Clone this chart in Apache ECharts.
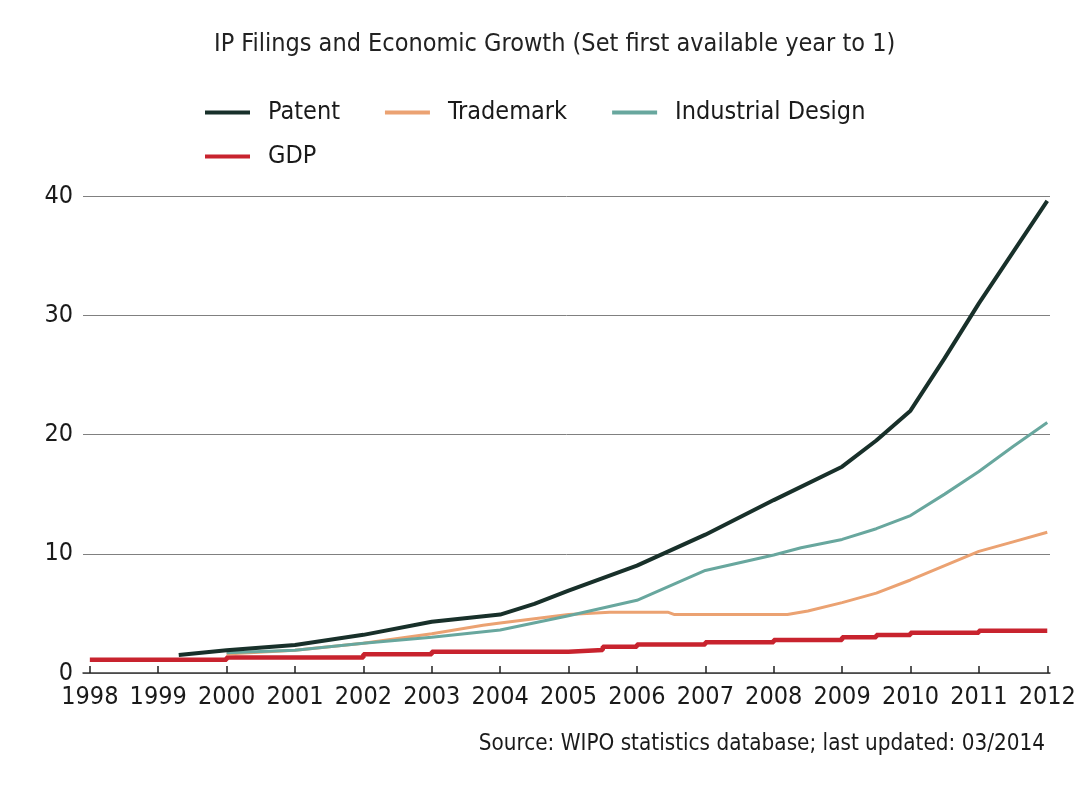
<!DOCTYPE html>
<html>
<head>
<meta charset="utf-8">
<script src="https://cdn.jsdelivr.net/npm/echarts@6/dist/echarts.min.js"></script>
<style>
html,body{margin:0;padding:0;background:#fff;}
#chart{width:1080px;height:788px;}
</style>
</head>
<body>
<div id="chart"></div>
<script>
// ---- Data (year, index value; first available year = 1) ----
var yearTicks = [1998,1999,2000,2001,2002,2003,2004,2005,2006,2007,2008,2009,2010,2011,2012];
var yTicks = [0,10,20,30,40];

var patent = [
  [1999.3,1.5],[2000,1.9],[2001,2.35],[2002,3.2],[2003,4.3],[2004,4.9],[2004.5,5.8],
  [2005,6.9],[2006,9.0],[2007,11.6],[2008,14.5],[2009,17.3],[2009.5,19.5],[2010,22.0],
  [2010.5,26.4],[2011,31.0],[2011.5,35.3],[2012,39.6]
];
var trademark = [
  [2000,1.6],[2001,1.9],[2002,2.5],[2003,3.3],[2003.75,4.0],[2004,4.2],[2005,4.9],
  [2005.6,5.1],[2006.45,5.1],[2006.55,4.9],[2008.2,4.9],[2008.5,5.2],[2009,5.9],
  [2009.5,6.7],[2010,7.8],[2010.5,9.0],[2011,10.2],[2011.5,11.0],[2012,11.8]
];
var industrialDesign = [
  [2000,1.7],[2001,1.9],[2002,2.5],[2003,3.0],[2004,3.6],[2005,4.8],[2006,6.1],
  [2006.6,7.6],[2007,8.6],[2008,9.9],[2008.4,10.5],[2009,11.2],[2009.5,12.1],
  [2010,13.2],[2010.5,15.0],[2011,16.9],[2011.5,19.0],[2012,21.0]
];
var gdp = [
  [1998,1.12],[2000,1.3],[2002,1.57],[2003,1.78],[2005,1.93],[2005.5,2.2],[2006,2.4],
  [2007,2.57],[2008,2.77],[2009,3.0],[2009.5,3.18],[2010,3.38],[2011,3.55],[2012,3.55]
];

var titleText = 'IP Filings and Economic Growth (Set first available year to 1)';
var sourceText = 'Source: WIPO statistics database; last updated: 03/2014';

var FONT = "'Liberation Sans Narrow', 'DejaVu Sans Condensed', 'Liberation Sans', sans-serif";
var colors = {
  'Patent': '#18302a',
  'Trademark': '#eba272',
  'Industrial Design': '#68a79e',
  'GDP': '#c8232e'
};

var chart = echarts.init(document.getElementById('chart'), null, {renderer: 'canvas'});

function mkSeries(name, data, width, z, step) {
  var s = {
    name: name,
    type: 'line',
    data: data,
    showSymbol: false,
    symbol: 'none',
    z: z,
    lineStyle: {color: colors[name], width: width},
    itemStyle: {color: colors[name]},
    emphasis: {disabled: true},
    animation: false
  };
  if (step) s.step = step;
  return s;
}

var legendCommon = {
  icon: 'rect',
  padding: 0,
  itemWidth: 45,
  itemHeight: 4,
  itemGap: 45,
  textStyle: {fontFamily: FONT, fontSize: 25, color: '#1a1a1a', padding: [0,0,0,13]}
};

var option = {
  backgroundColor: '#ffffff',
  animation: false,
  title: {
    text: titleText,
    left: 209,
    top: 27,
    textStyle: {fontFamily: FONT, fontSize: 25, fontWeight: 'normal', color: '#222'}
  },
  legend: [
    Object.assign({}, legendCommon, {left: 205, top: 100, data: ['Patent','Trademark','Industrial Design']}),
    Object.assign({}, legendCommon, {left: 205, top: 144, data: ['GDP']})
  ],
  grid: {left: 83, right: 30, top: 196, bottom: 115, containLabel: false},
  xAxis: {
    type: 'value',
    min: 1997.9,
    max: 2012.04,
    splitLine: {show: false},
    axisLine: {show: true, lineStyle: {color: '#3a3a3a', width: 1.5}},
    axisTick: {show: true, inside: true, length: 7, customValues: yearTicks, lineStyle: {color: '#222', width: 1.5}},
    axisLabel: {
      customValues: yearTicks,
      fontFamily: FONT, fontSize: 25, color: '#1a1a1a', margin: 12,
      formatter: function (v) { return String(Math.round(v)); }
    }
  },
  yAxis: {
    type: 'value',
    min: yTicks[0],
    max: yTicks[yTicks.length - 1],
    interval: 10,
    axisLine: {show: false},
    axisTick: {show: false},
    splitLine: {show: true, lineStyle: {color: '#808080', width: 1}},
    axisLabel: {fontFamily: FONT, fontSize: 25, color: '#1a1a1a', margin: 10}
  },
  graphic: [{
    type: 'text',
    right: 35,
    top: 733,
    style: {text: sourceText, font: '22.3px ' + FONT, fill: '#1a1a1a'}
  }],
  series: [
    mkSeries('GDP', gdp, 4.5, 2, 'end'),
    mkSeries('Trademark', trademark, 3, 3),
    mkSeries('Industrial Design', industrialDesign, 3, 4),
    mkSeries('Patent', patent, 4, 5)
  ]
};
chart.setOption(option);
</script>
</body>
</html>
